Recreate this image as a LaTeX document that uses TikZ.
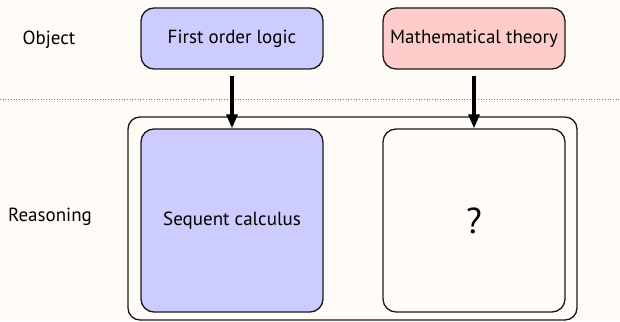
\documentclass[tikz,border=0pt]{standalone}
\usepackage{fontspec}
\setmainfont{PT Sans}
\usetikzlibrary{arrows.meta}
\definecolor{bg}{HTML}{FFFCF7}
\definecolor{blueF}{HTML}{CCCCFF}
\definecolor{pinkF}{HTML}{FFCCCC}
\begin{document}
\begin{tikzpicture}[x=1pt,y=1pt,
  box/.style={draw=black!90, line width=1.3pt, rounded corners=13pt, inner sep=0pt, font=\fontsize{19}{22}\selectfont},
  lbl/.style={font=\fontsize{19}{22}\selectfont},
  arr/.style={line width=3.2pt, -{Triangle[length=14pt,width=11pt]}}]
\fill[bg] (0,0) rectangle (620,321);
\useasboundingbox (0,0) rectangle (620,321);
% dotted separator
\coordinate (dl) at (0,222);
\coordinate (dr) at (620,222);
\draw[black!55, dotted, line width=0.7pt] (dl) -- (dr);
% labels
\node[lbl] (obj) at (49,281) {Object};
\node[lbl] (rea) at (50,104) {Reasoning};
% outer container
\node[draw=black!90, line width=1.3pt, rounded corners=12pt, minimum width=449pt, minimum height=203pt, inner sep=0pt] (outer) at (352.5,102.5) {};
% top boxes
\node[box, fill=blueF, minimum width=182pt, minimum height=61pt] (fol) at (232,282.5) {First order logic};
\node[box, fill=pinkF, minimum width=182pt, minimum height=61pt] (mt) at (474,282.5) {Mathematical theory};
% inner boxes
\node[box, fill=blueF, minimum width=182pt, minimum height=183pt] (sc) at (232,100.5) {Sequent calculus};
\node[box, fill=bg, minimum width=182pt, minimum height=183pt, font=\fontsize{36}{40}\selectfont] (q) at (474,100.5) {?};
% arrows
\draw[arr] ([yshift=-6pt]fol.south) -- (sc.north);
\draw[arr] ([yshift=-6pt]mt.south) -- (q.north);
\end{tikzpicture}
\end{document}
